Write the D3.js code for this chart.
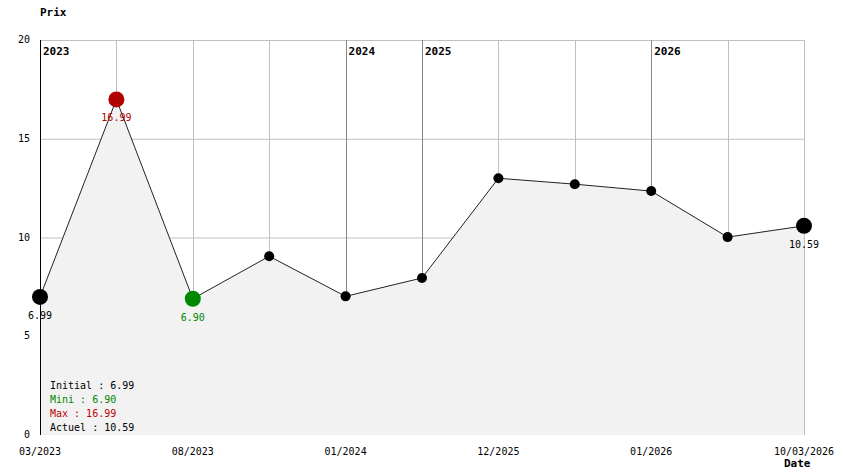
<!DOCTYPE html>
<head>
    <meta charset="utf-8">
    <script src="https://d3js.org/d3.v7.min.js"></script>
    <style>
        body { margin:0; background:#fff; }
        text { font-family: "DejaVu Sans Mono", monospace; font-size: 10px; }
        .bold { font-weight: bold; font-size: 11px; }
    </style>
</head>
<body>
    <svg id="chart" width="844" height="474"></svg>
    <script>
        // Data
        var dateLabels = ["03/2023", "", "08/2023", "", "01/2024", "", "12/2025", "", "01/2026", "", "10/03/2026"];
        var prices = [6.99, 16.99, 6.90, 9.05, 7.02, 7.95, 13.0, 12.7, 12.35, 10.02, 10.59];
        var yearMarks = [{i: 0, year: "2023"}, {i: 4, year: "2024"}, {i: 5, year: "2025"}, {i: 8, year: "2026"}];
        var yTicks = [0, 5, 10, 15, 20];
        var legendLines = [
            {text: "Initial : 6.99", color: "#000"},
            {text: "Mini : 6.90", color: "#008800"},
            {text: "Max : 16.99", color: "#c00000"},
            {text: "Actuel : 10.59", color: "#000"}
        ];

        var svg = d3.select("#chart");
        var x = d3.scalePoint().domain(d3.range(prices.length)).range([40, 804]);
        var y = d3.scaleLinear().domain([0, 20]).range([435, 40]);

        // horizontal grid
        svg.selectAll(".hgrid").data(yTicks.filter(function(d) { return d > 0; }))
            .enter().append("line")
            .attr("x1", 40).attr("x2", 804)
            .attr("y1", function(d) { return y(d) + 0.5; }).attr("y2", function(d) { return y(d) + 0.5; })
            .attr("stroke", "#c0c0c0");

        // vertical grid
        var yearIdx = yearMarks.map(function(d) { return d.i; });
        svg.selectAll(".vgrid").data(d3.range(prices.length))
            .enter().append("line")
            .attr("x1", function(d) { return Math.round(x(d)) + 0.5; })
            .attr("x2", function(d) { return Math.round(x(d)) + 0.5; })
            .attr("y1", 40).attr("y2", 435)
            .attr("stroke", function(d) { return yearIdx.indexOf(d) >= 0 ? "#888" : "#c0c0c0"; });

        // area fill
        var area = d3.area()
            .x(function(d, i) { return x(i); })
            .y0(y(0))
            .y1(function(d) { return y(d); });
        svg.append("path").datum(prices).attr("d", area).attr("fill", "#f2f2f2");

        // left axis line
        svg.append("line").attr("x1", 40.5).attr("x2", 40.5).attr("y1", 40).attr("y2", 435).attr("stroke", "#000");

        // year labels
        svg.selectAll(".year").data(yearMarks).enter().append("text")
            .attr("class", "bold")
            .attr("x", function(d) { return x(d.i) + 3; })
            .attr("y", 55)
            .text(function(d) { return d.year; });

        // price line
        var line = d3.line()
            .x(function(d, i) { return x(i); })
            .y(function(d) { return y(d); });
        svg.append("path").datum(prices).attr("d", line)
            .attr("fill", "none").attr("stroke", "#222").attr("stroke-width", 1);

        var iMax = d3.maxIndex(prices), iMin = d3.minIndex(prices), iLast = prices.length - 1;
        function pointColor(i) {
            if (i === iMax) return "#b00000";
            if (i === iMin) return "#008800";
            return "#000";
        }
        var special = [0, iMax, iMin, iLast];

        svg.selectAll(".pt").data(prices).enter().append("circle")
            .attr("cx", function(d, i) { return x(i); })
            .attr("cy", function(d) { return y(d); })
            .attr("r", function(d, i) { return special.indexOf(i) >= 0 ? 8 : 5; })
            .attr("fill", function(d, i) { return pointColor(i); });

        // value labels under special points
        svg.selectAll(".vlabel").data(special).enter().append("text")
            .attr("x", function(i) { return x(i); })
            .attr("y", function(i) { return y(prices[i]) + 22; })
            .attr("text-anchor", "middle")
            .attr("fill", function(i) { return i === 0 || i === iLast ? "#000" : pointColor(i); })
            .text(function(i) { return prices[i].toFixed(2); });

        // y tick labels
        svg.selectAll(".ytick").data(yTicks).enter().append("text")
            .attr("x", 30)
            .attr("y", function(d) { return y(d) + 3; })
            .attr("text-anchor", "end")
            .text(function(d) { return d; });

        // x tick labels
        svg.selectAll(".xtick").data(dateLabels).enter().append("text")
            .attr("x", function(d, i) { return x(i); })
            .attr("y", 455)
            .attr("text-anchor", "middle")
            .text(function(d) { return d; });

        // axis titles
        svg.append("text").attr("class", "bold").attr("x", 40).attr("y", 16).text("Prix");
        svg.append("text").attr("class", "bold").attr("x", 784).attr("y", 467).text("Date");

        // legend
        svg.selectAll(".legend").data(legendLines).enter().append("text")
            .attr("x", 50)
            .attr("y", function(d, i) { return 389 + i * 14; })
            .attr("fill", function(d) { return d.color; })
            .text(function(d) { return d.text; });
    </script>
</body>
